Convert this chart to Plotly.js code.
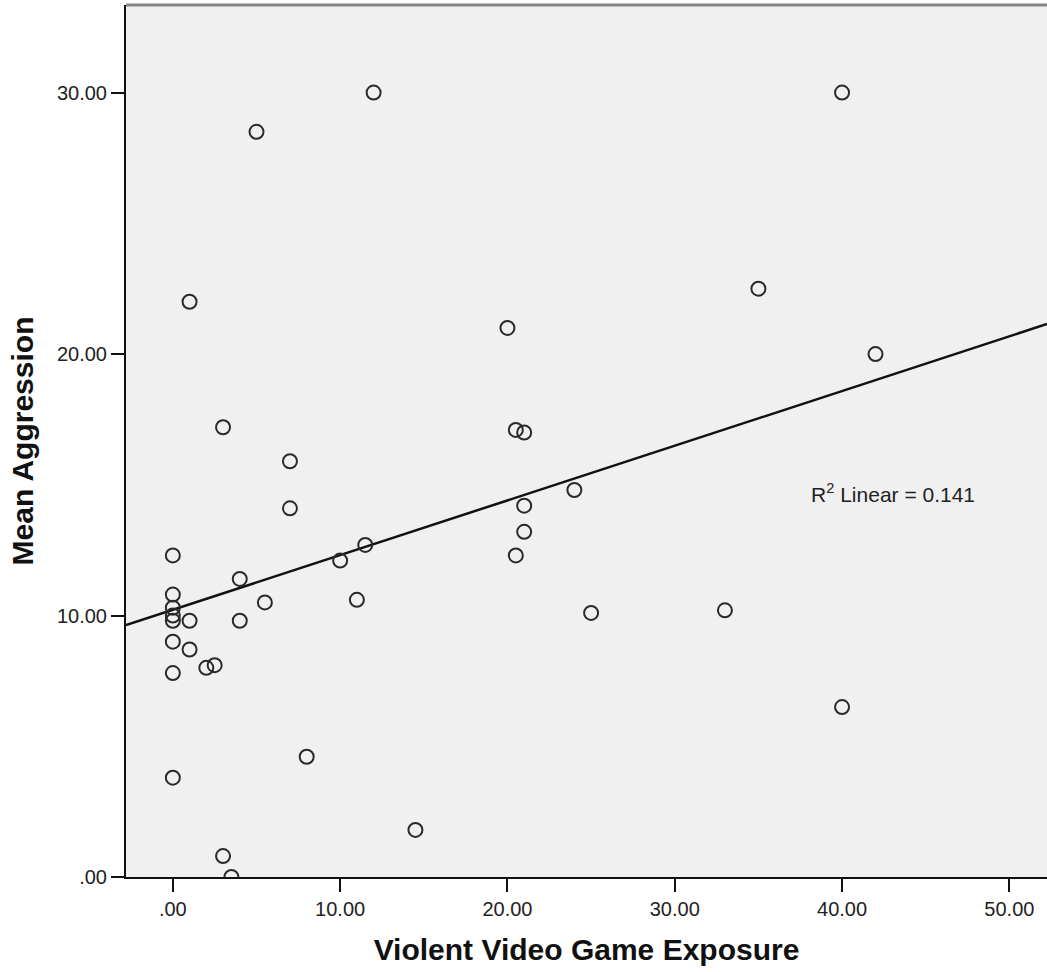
<!DOCTYPE html>
<html>
<head>
<meta charset="utf-8">
<script src="https://cdn.plot.ly/plotly-3.0.1.min.js"></script>
<style>html,body{margin:0;padding:0;background:#fff;}#chart{width:1047px;height:972px;}</style>
</head>
<body>
<div id="chart"></div>
<script>
// Violent Video Game Exposure (x) vs Mean Aggression (y)
const exposure = [0, 0, 0, 0, 0, 0, 0, 0,
                  1, 1, 1, 2, 2.5, 3, 3, 3.5, 4, 4, 5, 5.5, 7, 7, 8,
                  10, 11, 11.5, 12, 14.5, 20, 20.5, 20.5, 21, 21, 21,
                  24, 25, 33, 35, 40, 40, 42];
const aggression = [12.3, 10.8, 10.3, 10.0, 9.8, 9.0, 7.8, 3.8,
                    22.0, 9.8, 8.7, 8.0, 8.1, 17.2, 0.8, 0.0, 11.4, 9.8, 28.5, 10.5, 15.9, 14.1, 4.6,
                    12.1, 10.6, 12.7, 30.0, 1.8, 21.0, 17.1, 12.3, 17.0, 14.2, 13.2,
                    14.8, 10.1, 10.2, 22.5, 30.0, 6.5, 20.0];
const xTickVals = [0, 10, 20, 30, 40, 50];
const xTickText = ['.00', '10.00', '20.00', '30.00', '40.00', '50.00'];
const yTickVals = [0, 10, 20, 30];
const yTickText = ['.00', '10.00', '20.00', '30.00'];
const r2Label = 'R<sup>2</sup> Linear = 0.141';

const xRange = [-2.8, 52.25];
const yRange = [0, 33.35];

// least-squares fit line
const n = exposure.length;
const mx = exposure.reduce((a, b) => a + b, 0) / n;
const my = aggression.reduce((a, b) => a + b, 0) / n;
let sxy = 0, sxx = 0;
for (let i = 0; i < n; i++) { sxy += (exposure[i] - mx) * (aggression[i] - my); sxx += (exposure[i] - mx) ** 2; }
const slope = sxy / sxx, icpt = my - slope * mx;
const fitX = [xRange[0], xRange[1]];
const fitY = fitX.map(v => icpt + slope * v);

const FONT = 'Liberation Sans, Arial, sans-serif';

const traces = [
  {x: fitX, y: fitY, mode: 'lines', line: {color: '#111', width: 2.5}, hoverinfo: 'skip', showlegend: false},
  {x: exposure, y: aggression, mode: 'markers', showlegend: false,
   marker: {symbol: 'circle-open', size: 14, color: '#2a2a2a', line: {width: 2, color: '#2a2a2a'}}}
];

const layout = {
  width: 1047, height: 972,
  margin: {l: 126, r: 0, t: 5, b: 95},
  paper_bgcolor: '#ffffff', plot_bgcolor: '#f0f0f0',
  font: {family: FONT, color: '#222', size: 20},
  showlegend: false,
  xaxis: {
    range: xRange, tickvals: xTickVals, ticktext: xTickText,
    showgrid: false, zeroline: false, showline: true, linecolor: '#111', linewidth: 2,
    ticks: 'outside', ticklen: 13, tickwidth: 2, tickcolor: '#111',
    tickfont: {family: FONT, size: 20, color: '#222'},
    title: {text: 'Violent Video Game Exposure', font: {family: FONT, size: 30, weight: 'bold', color: '#111'}, standoff: 20}
  },
  yaxis: {
    range: yRange, tickvals: yTickVals, ticktext: yTickText,
    showgrid: false, zeroline: false, showline: true, linecolor: '#111', linewidth: 2,
    ticks: 'outside', ticklen: 13, tickwidth: 2, tickcolor: '#111',
    tickfont: {family: FONT, size: 20, color: '#222'},
    title: {text: 'Mean Aggression', font: {family: FONT, size: 30, weight: 'bold', color: '#111'}, standoff: 14}
  },
  shapes: [
    {type: 'line', xref: 'paper', yref: 'paper', x0: 0, x1: 1, y0: 1, y1: 1, line: {color: '#858585', width: 3}}
  ],
  annotations: [
    {x: 38, y: 14.7, xref: 'x', yref: 'y', xanchor: 'left', yanchor: 'middle', showarrow: false,
     text: r2Label, font: {family: FONT, size: 21, color: '#222'}}
  ]
};

Plotly.newPlot('chart', traces, layout, {displayModeBar: false, staticPlot: true});
</script>
</body>
</html>
